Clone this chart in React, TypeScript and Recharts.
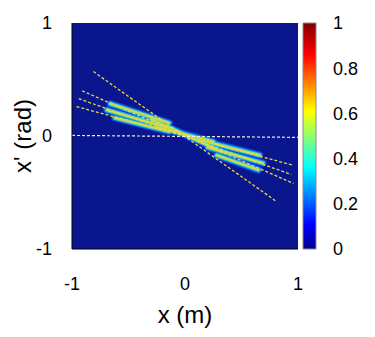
import React from 'react';
import { ComposedChart, Line, XAxis, YAxis, CartesianGrid, Label, BarChart, Bar } from 'recharts';

const xTicks = [-1, 0, 1];
const yTicks = [-1, 0, 1];
const colorbarTicks = [0, 0.2, 0.4, 0.6, 0.8, 1];
const colorbarInnerTicks = [0.2, 0.4, 0.6, 0.8];

// jet colormap (position, colour)
const jetStops = [0, 0.11, 0.36, 0.61, 0.86, 1];
const jetColors = ['#00008f', '#0000ff', '#00ffff', '#ffff00', '#ff0000', '#800000'];

// bright streaks of the distribution (end points in x, x')
const lobeLeftTop = [{ x: -0.66, y: 0.285 }, { x: -0.14, y: 0.115 }];
const lobeLeftMid = [{ x: -0.69, y: 0.23 }, { x: -0.14, y: 0.07 }];
const lobeLeftBot = [{ x: -0.62, y: 0.16 }, { x: -0.14, y: 0.04 }];
const lobeCenterA = [{ x: -0.3, y: 0.15 }, { x: 0.33, y: -0.14 }];
const lobeCenterB = [{ x: -0.25, y: 0.08 }, { x: 0.25, y: -0.05 }];
const lobeRightTop = [{ x: 0.13, y: -0.035 }, { x: 0.66, y: -0.17 }];
const lobeRightMid = [{ x: 0.2, y: -0.1 }, { x: 0.69, y: -0.24 }];
const lobeRightBot = [{ x: 0.28, y: -0.17 }, { x: 0.65, y: -0.3 }];

// dashed guide lines
const guideSteep = [{ x: -0.81, y: 0.57 }, { x: 0.81, y: -0.58 }];
const guideA = [{ x: -0.91, y: 0.4 }, { x: 0.96, y: -0.42 }];
const guideB = [{ x: -0.94, y: 0.33 }, { x: 0.94, y: -0.34 }];
const guideC = [{ x: -0.96, y: 0.26 }, { x: 0.96, y: -0.26 }];
const guideFlat = [{ x: -1, y: 0.005 }, { x: 1, y: -0.012 }];

const lobes = [lobeLeftTop, lobeLeftMid, lobeLeftBot, lobeCenterA, lobeCenterB, lobeRightTop, lobeRightMid, lobeRightBot];
const guides = [guideSteep, guideA, guideB, guideC];

// drawn from outside in
const lobeLayers = [
  { w: 7.5, c: '#1040e0' },
  { w: 5, c: '#16a6ee' },
  { w: 3, c: '#86dc86' },
  { w: 1.3, c: '#e6d63a' },
];

const font = '"Liberation Sans", Arial, sans-serif';

const YLabel = (props: any) => {
  const vb = props.viewBox || { x: 0, y: 23, height: 226 };
  const cx = vb.x + 22;
  const cy = vb.y + vb.height / 2;
  return (
    <text x={cx} y={cy} transform={`rotate(-90 ${cx} ${cy})`} textAnchor="middle" dominantBaseline="central"
      fontSize={24} fill="#000" fontFamily={font}>
      x' (rad)
    </text>
  );
};

export default function App() {
  return (
    <div style={{ position: 'absolute', left: 0, top: 0, width: 375, height: 337, background: '#fff', fontFamily: font }}>
      <div style={{ position: 'absolute', left: 0, top: 0 }}>
        <ComposedChart width={375} height={337} margin={{ top: 23, right: 77, bottom: 0, left: 0 }}>
          <CartesianGrid fill="#0a168e" horizontal={false} vertical={false} stroke="none" />
          <XAxis type="number" dataKey="x" domain={[-1, 1]} ticks={xTicks} allowDataOverflow height={88}
            tickLine={false} tickSize={0} tickMargin={28} axisLine={{ stroke: '#000' }}
            tick={{ fill: '#000', fontSize: 18, fontFamily: font }}>
            <Label value="x (m)" position="insideBottom" offset={14} fontSize={24} fill="#000" fontFamily={font} />
          </XAxis>
          <XAxis xAxisId="top" orientation="top" type="number" domain={[-1, 1]} ticks={[0]} mirror height={0}
            tick={false} tickSize={4} tickLine={{ stroke: '#000' }} axisLine={{ stroke: '#000' }} />
          <YAxis type="number" domain={[-1, 1]} ticks={yTicks} allowDataOverflow width={72}
            tickLine={false} tickSize={0} tickMargin={20} axisLine={{ stroke: '#000' }}
            tick={{ fill: '#000', fontSize: 18, fontFamily: font }}>
            <Label content={YLabel} />
          </YAxis>
          <YAxis yAxisId="right" orientation="right" type="number" domain={[-1, 1]} ticks={[0]} mirror width={0}
            tick={false} tickSize={4} tickLine={{ stroke: '#000' }} axisLine={{ stroke: '#000' }} />

          {lobeLayers.map((layer, li) =>
            lobes.map((d, i) => (
              <Line key={`lobe-${li}-${i}`} data={d} dataKey="y" type="linear" stroke={layer.c}
                strokeWidth={layer.w} strokeLinecap="round" dot={false} activeDot={false} isAnimationActive={false} />
            ))
          )}
          {guides.map((d, i) => (
            <Line key={`guide-${i}`} data={d} dataKey="y" type="linear" stroke="#e2dc3c" strokeWidth={1.3}
              strokeDasharray="3 2" dot={false} activeDot={false} isAnimationActive={false} />
          ))}
          <Line data={guideFlat} dataKey="y" type="linear" stroke="#eeeed2" strokeWidth={1.2}
            strokeDasharray="3 2" dot={false} activeDot={false} isAnimationActive={false} />
        </ComposedChart>
      </div>

      <div style={{ position: 'absolute', left: 0, top: 0 }}>
        <BarChart width={375} height={337} data={[{ k: 'cb', v: 1 }]} barCategoryGap={0}
          margin={{ top: 23, right: 0, bottom: 88, left: 303 }}>
          <defs>
            <linearGradient id="jet" x1="0" y1="1" x2="0" y2="0">
              {jetStops.map((s, i) => (
                <stop key={i} offset={s} stopColor={jetColors[i]} />
              ))}
            </linearGradient>
          </defs>
          <XAxis dataKey="k" hide />
          <YAxis yAxisId="cbl" orientation="left" domain={[0, 1]} ticks={colorbarInnerTicks} mirror width={0}
            tick={false} tickSize={3} axisLine={false} tickLine={{ stroke: '#333' }} />
          <YAxis yAxisId="cbr" orientation="right" domain={[0, 1]} ticks={colorbarInnerTicks} mirror width={0}
            tick={false} tickSize={3} axisLine={false} tickLine={{ stroke: '#333' }} />
          <YAxis yAxisId="cb" orientation="right" domain={[0, 1]} ticks={colorbarTicks} width={59}
            tickLine={false} tickSize={0} tickMargin={17} axisLine={false}
            tick={{ fill: '#000', fontSize: 18, fontFamily: font }} />
          <Bar yAxisId="cb" dataKey="v" fill="url(#jet)" stroke="#8a8a8a" strokeWidth={1} isAnimationActive={false} />
        </BarChart>
      </div>
    </div>
  );
}
